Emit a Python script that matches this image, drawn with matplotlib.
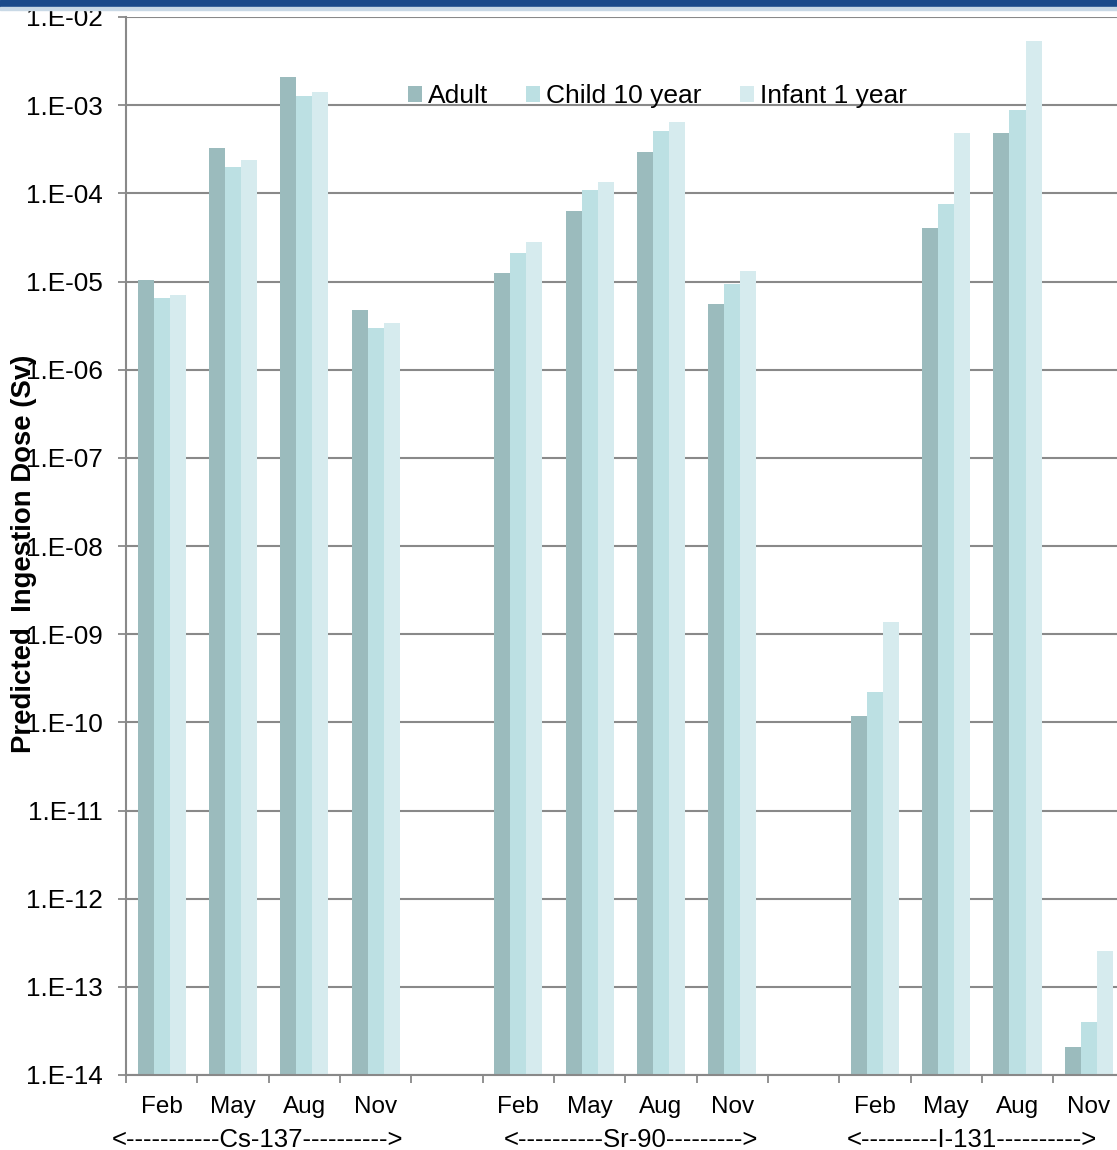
import numpy as np
import matplotlib.pyplot as plt
from matplotlib.patches import Rectangle
from matplotlib.ticker import FixedLocator, FuncFormatter, NullLocator

plt.rcParams['font.family'] = ['Liberation Sans', 'DejaVu Sans']

# 14 category slots, blanks separate the three nuclides
months = ['Feb', 'May', 'Aug', 'Nov', '', 'Feb', 'May', 'Aug', 'Nov', '', 'Feb', 'May', 'Aug', 'Nov']
groups = ['<-----------Cs-137---------->', '<----------Sr-90--------->', '<---------I-131---------->']
group_centers = [1.35, 6.58, 11.36]
series = ['Adult', 'Child 10 year', 'Infant 1 year']
nan = np.nan

adult = [1.04e-5, 3.27e-4, 2.09e-3, 4.75e-6, nan,
         1.25e-5, 6.3e-5, 2.94e-4, 5.56e-6, nan,
         1.18e-10, 4.05e-5, 4.8e-4, 2.1e-14]
child = [6.5e-6, 1.99e-4, 1.27e-3, 2.97e-6, nan,
         2.1e-5, 1.09e-4, 5.1e-4, 9.4e-6, nan,
         2.2e-10, 7.6e-5, 8.8e-4, 4.0e-14]
infant = [7.0e-6, 2.39e-4, 1.41e-3, 3.38e-6, nan,
          2.8e-5, 1.35e-4, 6.4e-4, 1.32e-5, nan,
          1.37e-9, 4.8e-4, 5.3e-3, 2.55e-13]

colors = ['#9bbbbd', '#bce0e3', '#d6ebee']

W, H = 1117, 1150
fig = plt.figure(figsize=(W / 100, H / 100), dpi=100)
# plot area runs slightly past the right edge, like the cropped original
ax = fig.add_axes([126 / W, 1 - 1075 / H, 998.5 / W, 1058 / H])

x = np.arange(len(months))
bw = 0.225
for i, (vals, c, name) in enumerate(zip([adult, child, infant], colors, series)):
    ax.bar(x + (i - 1) * bw, vals, width=bw, color=c, label=name, zorder=2)

ax.set_yscale('log')
ax.set_ylim(1e-14, 1e-2)
ax.set_xlim(-0.5, len(months) - 0.5)
ax.yaxis.set_major_locator(FixedLocator([10.0 ** k for k in range(-14, -1)]))
ax.yaxis.set_minor_locator(NullLocator())
ax.yaxis.set_major_formatter(FuncFormatter(lambda v, p: '1.E-%02d' % round(-np.log10(v))))
ax.grid(axis='y', color='#898989', linewidth=1.5, zorder=0)
ax.set_axisbelow(True)

ax.set_xticks(x)
ax.set_xticklabels(months)
ax.set_xticks(np.arange(-0.5, len(months), 1.0), minor=True)
ax.tick_params(axis='x', which='major', length=0, pad=15, labelsize=17.5)
ax.tick_params(axis='x', which='minor', length=5.5, width=1.3, color='#898989')
ax.tick_params(axis='y', length=6, width=1.3, color='#898989', pad=11, labelsize=18.8)

for s in ['top', 'right']:
    ax.spines[s].set_visible(False)
for s in ['left', 'bottom']:
    ax.spines[s].set_color('#898989')
    ax.spines[s].set_linewidth(1.5)

for gx, g in zip(group_centers, groups):
    ax.annotate(g, xy=(gx, 0), xycoords=('data', 'axes fraction'),
                xytext=(0, -47), textcoords='offset points',
                ha='center', va='center', fontsize=18.5)

ax.set_ylabel('Predicted  Ingestion Dose (Sv)', fontsize=19.8, fontweight='bold', va='center')
ax.yaxis.set_label_coords(-0.102, 0.493)

ax.legend(ncol=3, loc='center', bbox_to_anchor=(0.532, 0.925), frameon=False,
          fontsize=19, handlelength=0.53, handleheight=0.53, handletextpad=0.23,
          columnspacing=1.44, borderaxespad=0)

# slide header band at the top
fig.patches.append(Rectangle((0, 1 - 7 / H), 1, 7 / H, transform=fig.transFigure,
                             color='#1b4a8a', zorder=10))
fig.patches.append(Rectangle((0, 1 - 9.5 / H), 1, 2.5 / H, transform=fig.transFigure,
                             color='#c9d9e6', zorder=10))

fig.savefig('out.png', dpi=100)
